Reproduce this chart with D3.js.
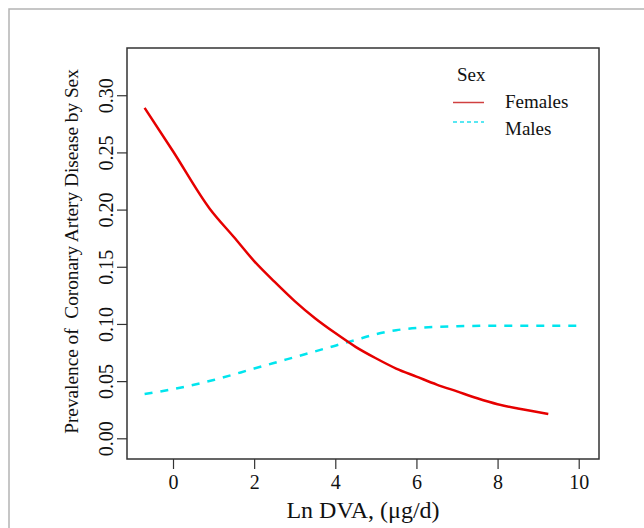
<!DOCTYPE html>
<html>
<head>
<meta charset="utf-8">
<script src="https://cdn.jsdelivr.net/npm/d3@7"></script>
<style>
  html, body { margin: 0; padding: 0; background: #fff; }
  svg { display: block; font-family: "Liberation Serif", "Times New Roman", serif; }
</style>
</head>
<body>
<div id="chart"></div>
<script>
// Values
const femalesX = [-0.7, 0, 0.9, 1.5, 2, 2.5, 3, 3.5, 4, 4.5, 5, 5.5, 6, 6.5, 7, 7.5, 8, 8.5, 9.25];
const femalesY = [0.289, 0.251, 0.201, 0.176, 0.155, 0.137, 0.12, 0.105, 0.092, 0.080, 0.070, 0.061, 0.054, 0.047, 0.041, 0.035, 0.0298, 0.026, 0.0213];
const malesX = [-0.7, 0, 1, 2, 3, 4, 4.5, 5, 5.5, 6, 6.5, 7, 8, 9, 10];
const malesY = [0.0387, 0.043, 0.051, 0.061, 0.071, 0.081, 0.086, 0.091, 0.0945, 0.0965, 0.0975, 0.098, 0.0985, 0.0985, 0.0985];
const xTicks = [0, 2, 4, 6, 8, 10];
const yTicks = [0.00, 0.05, 0.10, 0.15, 0.20, 0.25, 0.30];
const legendLabels = ['Females', 'Males'];

const W = 644, H = 528;
const box = { left: 127, right: 599, top: 48, bottom: 459 };

const svg = d3.select('#chart').append('svg')
  .attr('width', W)
  .attr('height', H);

// Outer frame of the figure panel
svg.append('rect')
  .attr('x', 9).attr('y', 9)
  .attr('width', W + 20).attr('height', H + 20)
  .attr('fill', 'none')
  .attr('stroke', '#b4b4b4')
  .attr('stroke-width', 1.5);

const x = d3.scaleLinear().domain([-1.134, 10.5]).range([box.left, box.right]);
const y = d3.scaleLinear().domain([-0.0181, 0.3413]).range([box.bottom, box.top]);

// Axes
const xAxis = svg.append('g')
  .attr('transform', `translate(0,${box.bottom})`)
  .call(d3.axisBottom(x).tickValues(xTicks).tickSize(10).tickPadding(6).tickFormat(d3.format('d')));
xAxis.attr('font-size', null).attr('font-family', null);
xAxis.select('.domain').remove();
xAxis.selectAll('line').attr('stroke', '#333').attr('stroke-width', 1.2);
xAxis.selectAll('text').style('font-size', '20px').attr('fill', '#111');

const yAxis = svg.append('g')
  .attr('transform', `translate(${box.left},0)`)
  .call(d3.axisLeft(y).tickValues(yTicks).tickSize(10).tickFormat(d3.format('.2f')));
yAxis.attr('font-size', null).attr('font-family', null);
yAxis.select('.domain').remove();
yAxis.selectAll('line').attr('stroke', '#333').attr('stroke-width', 1.2);
yAxis.selectAll('text')
  .style('font-size', '20px').attr('fill', '#111')
  .attr('text-anchor', 'middle')
  .attr('dy', null)
  .attr('x', null)
  .attr('y', 0)
  .attr('transform', 'translate(-14,0) rotate(-90)');

// Plot box
svg.append('rect')
  .attr('x', box.left).attr('y', box.top)
  .attr('width', box.right - box.left).attr('height', box.bottom - box.top)
  .attr('fill', 'none')
  .attr('stroke', '#333')
  .attr('stroke-width', 1.5);

// Axis titles
svg.append('text')
  .attr('x', (box.left + box.right) / 2)
  .attr('y', 518)
  .attr('text-anchor', 'middle')
  .attr('font-size', 24)
  .attr('fill', '#111')
  .text('Ln DVA, (\u03bcg/d)');

svg.append('text')
  .attr('transform', `translate(78,${(box.top + box.bottom) / 2 - 2}) rotate(-90)`)
  .attr('text-anchor', 'middle')
  .attr('font-size', 19.3)
  .attr('fill', '#111')
  .style('white-space', 'pre')
  .text('Prevalence of  Coronary Artery Disease by Sex');

// Lines
const line = d3.line()
  .x(d => x(d[0]))
  .y(d => y(d[1]))
  .curve(d3.curveMonotoneX);

const females = femalesX.map((v, i) => [v, femalesY[i]]);
const males = malesX.map((v, i) => [v, malesY[i]]);

svg.append('path')
  .attr('d', line(males))
  .attr('fill', 'none')
  .attr('stroke', '#00e5ee')
  .attr('stroke-width', 2.5)
  .attr('stroke-dasharray', '8,8');

svg.append('path')
  .attr('d', line(females))
  .attr('fill', 'none')
  .attr('stroke', '#e60000')
  .attr('stroke-width', 2.5);

// Legend
const legend = svg.append('g');
legend.append('text')
  .attr('x', 457).attr('y', 81)
  .attr('font-size', 19).attr('fill', '#111')
  .text('Sex');

const legendColors = ['#d04040', '#22e0ee'];
const legendDash = [null, '4,3'];
const legendLineY = [102.5, 122];
const legendTextY = [108, 135];
legendLabels.forEach((lab, i) => {
  legend.append('line')
    .attr('x1', 453).attr('x2', 484)
    .attr('y1', legendLineY[i]).attr('y2', legendLineY[i])
    .attr('stroke', legendColors[i])
    .attr('stroke-width', 1.5)
    .attr('stroke-dasharray', legendDash[i]);
  legend.append('text')
    .attr('x', 505).attr('y', legendTextY[i])
    .attr('font-size', 19).attr('fill', '#111')
    .text(lab);
});
</script>
</body>
</html>
